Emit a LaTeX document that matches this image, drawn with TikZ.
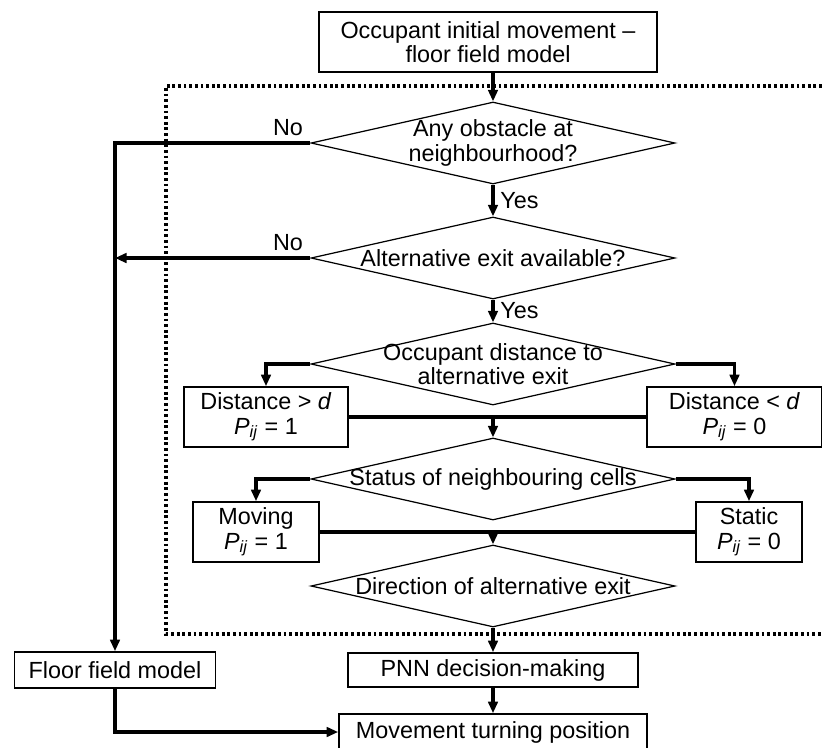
\documentclass[tikz,border=0pt]{standalone}
\usepackage{fontspec}
\setmainfont{Liberation Sans}
\usetikzlibrary{arrows.meta, shapes.geometric}
\tikzset{>={Stealth[length=2.3mm, width=1.9mm, inset=0pt]}}

\begin{document}
\begin{tikzpicture}[font=\fontsize{13.3}{14}\selectfont,
    box/.style={draw, line width=0.9pt, align=center, inner sep=0pt},
    decision/.style={draw, diamond, line width=0.7pt, minimum width=7.28cm,
      minimum height=1.64cm, inner sep=0pt},
    flow/.style={line width=1.8pt, ->},
    link/.style={line width=1.8pt}]
    \useasboundingbox (0,0) rectangle (16.44,-14.94);

    %dotted frame
    \draw[line width=1.8pt, dash pattern=on 1.6pt off 1.6pt]
      (17,-1.72) -- (3.32,-1.72) -- (3.32,-12.68) -- (17,-12.68);

    %start box
    \node[box, minimum width=6.76cm, minimum height=1.2cm] (start) at (9.76,-0.84)
      {Occupant initial movement –\\floor field model};

    %decisions
    \node[decision, label={[align=center]center:Any obstacle at\\neighbourhood?}] (d1) at (9.86,-2.86) {};
    \node[decision, label={center:Alternative exit available?}] (d2) at (9.86,-5.16) {};
    \node[decision, label={[align=center]center:Occupant distance to\\alternative exit}] (d3) at (9.86,-7.28) {};
    \node[decision, label={center:Status of neighbouring cells}] (d4) at (9.86,-9.58) {};
    \node[decision, label={center:Direction of alternative exit}] (d5) at (9.86,-11.72) {};

    %distance boxes
    \node[box, minimum width=3.28cm, minimum height=1.2cm] (gt) at (5.32,-8.34)
      {Distance > \textit{d}\\\textit{P}\textsubscript{\textit{ij}} = 1};
    \node[box, minimum width=3.5cm, minimum height=1.2cm] (lt) at (14.69,-8.34)
      {Distance < \textit{d}\\\textit{P}\textsubscript{\textit{ij}} = 0};

    %status boxes
    \node[box, minimum width=2.52cm, minimum height=1.2cm] (mv) at (5.12,-10.64)
      {Moving\\\textit{P}\textsubscript{\textit{ij}} = 1};
    \node[box, minimum width=2.12cm, minimum height=1.2cm] (st) at (14.98,-10.64)
      {Static\\\textit{P}\textsubscript{\textit{ij}} = 0};

    %bottom boxes
    \node[box, minimum width=5.8cm, minimum height=0.68cm] (pnn) at (9.86,-13.4) {PNN decision-making};
    \node[box, minimum width=4.02cm, minimum height=0.72cm] (ffm) at (2.3,-13.4) {Floor field model};
    \node[box, minimum width=6.16cm, minimum height=0.72cm] (turn) at (9.86,-14.64) {Movement turning position};

    %main flow
    \draw[flow] (start.south -| d1.north) -- (d1.north);
    \draw[flow] (d1.south) -- node[right] {Yes} (d2.north);
    \draw[flow] (d2.south) -- node[right] {Yes} (d3.north);

    %no branches
    \draw[flow] (d1.west) node[above left] {No} -| (ffm.north);
    \draw[flow] (d2.west) node[above left] {No} -- (d2.west -| ffm.north);

    %distance split
    \draw[flow] (d3.west) -| (gt.north);
    \draw[flow] (d3.east) -| (lt.north);
    \draw[link] (gt.east) -- (lt.west);
    \coordinate (j1) at (gt.east -| d4.north);
    \draw[flow] (j1) -- (d4.north);

    %status split
    \draw[flow] (d4.west) -| (mv.north);
    \draw[flow] (d4.east) -| (st.north);
    \draw[link] (mv.east) -- (st.west);
    \coordinate (j2) at (mv.east -| d5.north);
    \draw[flow] (j2) -- (d5.north);

    %to the end
    \draw[flow] (d5.south) -- (pnn.north);
    \draw[flow] (pnn.south) -- (turn.north);
    \draw[flow] (ffm.south) |- (turn.west);
\end{tikzpicture}
\end{document}
